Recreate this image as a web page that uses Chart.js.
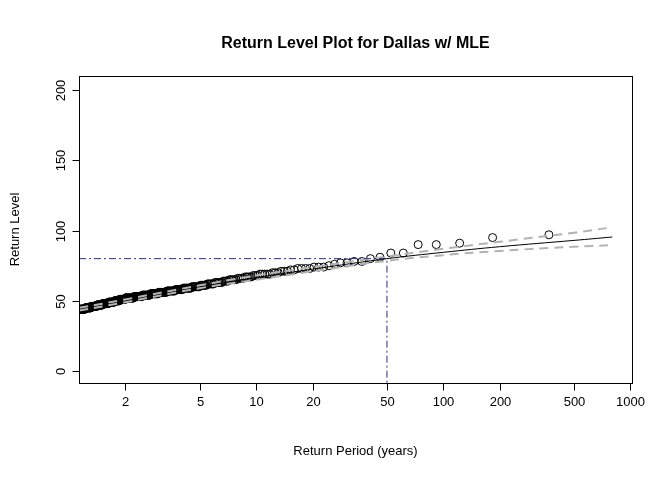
<!DOCTYPE html>
<html>
<head>
<meta charset="utf-8">
<script src="https://cdn.jsdelivr.net/npm/chart.js@4/dist/chart.umd.min.js"></script>
<style>
  html, body { margin: 0; padding: 0; background: #fff; }
  #wrap { width: 672px; height: 480px; }
</style>
</head>
<body>
<div id="wrap"><canvas id="chart"></canvas></div>
<script>
// largest observations, in decreasing order
const topLevels = [97, 95, 91, 90, 90, 84, 84, 81, 80, 78, 78, 77, 77, 76, 75]
// remaining observations grouped by level (descending)
const groupLevels = [74, 73, 72, 71, 70, 69, 68, 67, 66, 65, 64, 63, 62, 61, 60, 59, 58, 57, 56, 55, 54, 53, 52, 51, 50, 49, 48, 47, 46, 45, 44]
const groupCounts = [3, 4, 2, 3, 3, 5, 3, 4, 4, 5, 4, 6, 6, 6, 8, 9, 9, 11, 12, 13, 14, 16, 18, 14, 13, 16, 17, 18, 19, 21, 23]
const nYears = 367

// fitted return levels and confidence bounds
const fitPeriods = [1.13, 2, 5, 10, 20, 50, 100, 200, 500, 800]
const fitLevels  = [44, 50, 60, 66.5, 72.5, 80, 84.5, 88.5, 93, 95.4]
const upperCI    = [45, 51, 61, 68, 74, 81.5, 87, 92, 98.5, 102.3]
const lowerCI    = [43, 49, 59, 65, 71, 78.5, 82.5, 85.5, 88.5, 89.6]

const xTicks = [2, 5, 10, 20, 50, 100, 200, 500, 1000]
const yTicks = [0, 50, 100, 150, 200]
const refPeriod = 50
const refLevel = 80

let observed = topLevels.slice()
groupLevels.forEach((lv, k) => { for (let j = 0; j < groupCounts[k]; j++) observed.push(lv) })
const obsPoints = observed.map((lv, i) => ({ x: nYears / (i + 1), y: lv }))

const pts = arr => fitPeriods.map((p, i) => ({ x: p, y: arr[i] }))

const FONT = '"Liberation Sans", Arial, sans-serif'

const decor = {
  id: 'decor',
  afterDraw(chart) {
    const { ctx, chartArea: a, scales: { x, y } } = chart
    ctx.save()
    ctx.strokeStyle = '#000'
    ctx.lineWidth = 1
    ctx.strokeRect(a.left + 0.5, a.top + 0.5, a.width, a.height)
    ctx.fillStyle = '#000'
    ctx.font = '13px ' + FONT
    // x axis
    const bx = a.bottom + 0.5
    ctx.beginPath()
    ctx.moveTo(x.getPixelForValue(xTicks[0]), bx)
    ctx.lineTo(x.getPixelForValue(xTicks[xTicks.length - 1]), bx)
    ctx.stroke()
    ctx.textAlign = 'center'
    ctx.textBaseline = 'top'
    xTicks.forEach(t => {
      const px = Math.round(x.getPixelForValue(t)) + 0.5
      ctx.beginPath(); ctx.moveTo(px, bx); ctx.lineTo(px, bx + 7); ctx.stroke()
      ctx.fillText(String(t), px, bx + 12)
    })
    // y axis
    const lx = a.left + 0.5
    ctx.beginPath()
    ctx.moveTo(lx, y.getPixelForValue(yTicks[0]))
    ctx.lineTo(lx, y.getPixelForValue(yTicks[yTicks.length - 1]))
    ctx.stroke()
    yTicks.forEach(t => {
      const py = Math.round(y.getPixelForValue(t)) + 0.5
      ctx.beginPath(); ctx.moveTo(lx, py); ctx.lineTo(lx - 7, py); ctx.stroke()
      ctx.save()
      ctx.translate(lx - 18, py)
      ctx.rotate(-Math.PI / 2)
      ctx.textBaseline = 'middle'
      ctx.fillText(String(t), 0, 0)
      ctx.restore()
    })
    // titles
    ctx.font = 'bold 16px ' + FONT
    ctx.textBaseline = 'middle'
    ctx.fillText('Return Level Plot for Dallas w/ MLE', (a.left + a.right) / 2, 44)
    ctx.font = '13px ' + FONT
    ctx.fillText('Return Period (years)', (a.left + a.right) / 2, 451)
    ctx.save()
    ctx.translate(15, (a.top + a.bottom) / 2)
    ctx.rotate(-Math.PI / 2)
    ctx.fillText('Return Level', 0, 0)
    ctx.restore()
    ctx.restore()
  }
}

new Chart(document.getElementById('chart'), {
  type: 'scatter',
  data: {
    datasets: [{
      label: 'reference',
      data: [{ x: 1.13, y: refLevel }, { x: refPeriod, y: refLevel }, { x: refPeriod, y: -8.5 }],
      showLine: true,
      borderColor: '#2b2b8f',
      borderWidth: 1,
      borderDash: [7, 3, 2, 3],
      pointRadius: 0
    }, {
      label: 'upper',
      data: pts(upperCI),
      showLine: true,
      borderColor: '#b3b3b3',
      borderWidth: 2,
      borderDash: [9, 6],
      pointRadius: 0,
      tension: 0.4
    }, {
      label: 'lower',
      data: pts(lowerCI),
      showLine: true,
      borderColor: '#b3b3b3',
      borderWidth: 2,
      borderDash: [9, 6],
      pointRadius: 0,
      tension: 0.4
    }, {
      label: 'fit',
      data: pts(fitLevels),
      showLine: true,
      borderColor: '#000',
      borderWidth: 1,
      pointRadius: 0,
      tension: 0.4
    }, {
      label: 'observed',
      data: obsPoints,
      pointRadius: 4,
      pointBorderWidth: 1,
      pointBorderColor: '#000',
      pointBackgroundColor: 'rgba(0,0,0,0)'
    }]
  },
  options: {
    responsive: true,
    maintainAspectRatio: false,
    animation: false,
    layout: { padding: { top: 76, right: 40, left: 0, bottom: 0 } },
    plugins: { legend: { display: false }, tooltip: { enabled: false } },
    scales: {
      x: {
        type: 'logarithmic',
        min: 1.13,
        max: 1020,
        grid: { display: false },
        border: { display: false },
        ticks: { display: false },
        afterFit: s => { s.height = 97 }
      },
      y: {
        min: -8.5,
        max: 210,
        grid: { display: false },
        border: { display: false },
        ticks: { display: false },
        afterFit: s => { s.width = 79 }
      }
    }
  },
  plugins: [decor]
})
</script>
</body>
</html>
